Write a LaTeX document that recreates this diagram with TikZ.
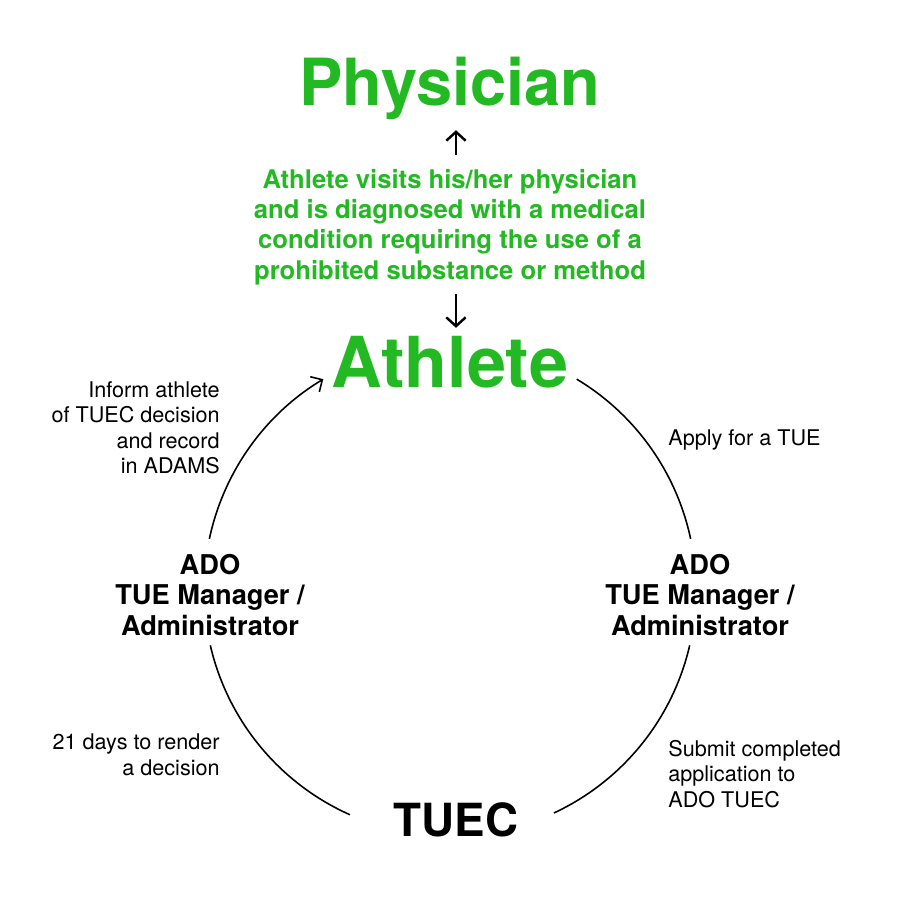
\documentclass[tikz,border=0pt]{standalone}
\usepackage{fontspec}
\setmainfont{TeX Gyre Heros}
\usetikzlibrary{positioning,arrows.meta}
\definecolor{tuegreen}{RGB}{34,185,34}
\tikzset{
    title/.style={font=\bfseries\fontsize{37}{40}\selectfont, text=tuegreen, inner sep=0pt},
    role/.style={font=\bfseries\fontsize{15.5}{17.5}\selectfont, align=center, inner sep=0pt},
    note/.style={font=\fontsize{12.3}{14.5}\selectfont, inner sep=0pt},
    cycle/.style={line width=0.9pt},
    line/.style={draw, line width=1.4pt, -{Straight Barb[length=5pt,width=11pt]}}
}
\begin{document}
\begin{tikzpicture}[x=0.02cm,y=-0.02cm]
    \useasboundingbox (0,0) rectangle (900,900);
    % Top part
    \node [title] (physician) at (450,88) {Physician};
    \node [font=\bfseries\fontsize{14.6}{17.2}\selectfont, text=tuegreen, align=center, inner sep=0pt] (visit) at (450,227)
        {Athlete visits his/her physician\\and is diagnosed with a medical\\condition requiring the use of a\\prohibited substance or method};
    \node [title, font=\bfseries\fontsize{40}{44}\selectfont] (athlete) at (450,362) {Athlete};
    \path [line] ([shift={(3.4pt,8pt)}]visit.north) -- ([shift={(3.4pt,-6pt)}]physician.south);
    \path [line] ([shift={(3.4pt,-5pt)}]visit.south) -- ([shift={(3.4pt,4.5pt)}]athlete.north);
    % Cycle
    \node [role] (adoright) at (700,595) {ADO\\TUE Manager /\\Administrator};
    \node [role] (adoleft) at (210,595) {ADO\\TUE Manager /\\Administrator};
    \node [font=\bfseries\fontsize{26}{30}\selectfont, inner sep=0pt] (tuec) at (456,820) {TUEC};
    \draw [cycle] (450,590) ++(-59:246) arc (-59:-12:246);
    \draw [cycle] (450,590) ++(13:246) arc (13:65:246);
    \draw [cycle] (450,590) ++(114:246) arc (114:167:246);
    \draw [cycle, -{Straight Barb[length=5pt,width=10pt]}] (450,590) ++(-168:246) arc (-168:-121:246);
    % Labels
    \node [note, align=left, anchor=west] (apply) at (668,440) {Apply for a TUE};
    \node [note, align=left, anchor=west] (submit) at (668,774) {Submit completed\\application to\\ADO TUEC};
    \node [note, align=right, anchor=east] (render) at (220,755) {21 days to render\\a decision};
    \node [note, align=right, anchor=east] (inform) at (220,428) {Inform athlete\\of TUEC decision\\and record\\in ADAMS};
\end{tikzpicture}
\end{document}
